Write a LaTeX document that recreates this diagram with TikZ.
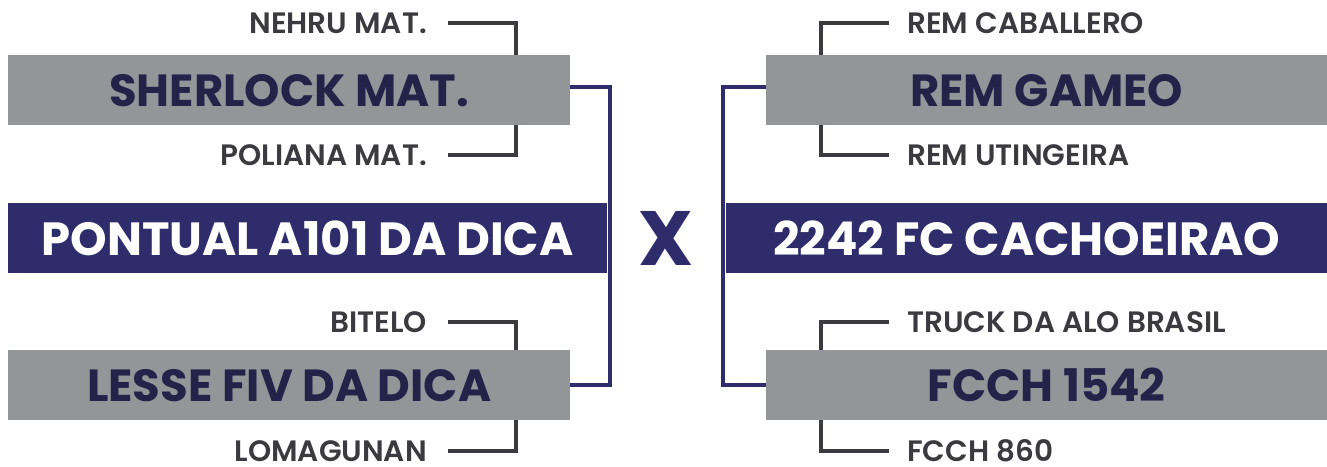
\documentclass[tikz,border=0pt]{standalone}
\usepackage{fontspec}
\setmainfont{Poppins}[BoldFont={Poppins SemiBold}]
\newfontfamily\heavyfont{Poppins Bold}
\definecolor{boxgray}{HTML}{939698}
\definecolor{navy}{HTML}{2E2C6B}
\definecolor{deepnavy}{HTML}{23234A}
\definecolor{labelgray}{HTML}{3B3B3F}
\begin{document}
\begin{tikzpicture}[x=1pt,y=-1pt,
  graybox/.style={fill=boxgray, inner sep=0pt, anchor=north west, text=deepnavy,
    minimum height=70pt, font=\heavyfont\fontsize{45}{45}\selectfont},
  navybox/.style={fill=navy, inner sep=0pt, anchor=north west, text=white,
    minimum height=70pt, font=\heavyfont\fontsize{46.5}{46.5}\selectfont},
  lbl/.style={inner sep=0pt, text=labelgray, font=\fontsize{29.5}{29.5}\selectfont\bfseries},
  lblL/.style={lbl, anchor=east},
  lblR/.style={lbl, anchor=west},
  darkline/.style={draw=labelgray, line width=4pt},
  blueline/.style={draw=navy, line width=3.5pt}]
\useasboundingbox (0,0) rectangle (1327,466);
% left boxes
\node[graybox, minimum width=562pt] (sherlock) at (8,55) {SHERLOCK MAT.};
\node[navybox, minimum width=599pt] (pontual) at (8,203) {PONTUAL A101 DA DICA};
\node[graybox, minimum width=562pt] (lesse) at (8,350) {LESSE FIV DA DICA};
% right boxes
\node[graybox, minimum width=561pt] (gameo) at (766,55) {REM GAMEO};
\node[navybox, minimum width=601pt] (cacho) at (726,203) {2242 FC CACHOEIRAO};
\node[graybox, minimum width=561pt] (fcch) at (766,350) {FCCH 1542};
% versus
\node[inner sep=0pt, text=navy, font=\heavyfont\fontsize{77}{77}\selectfont] (vs) at (666,238) {X};
% left labels
\node[lblL] (nehru) at (427,23) {NEHRU MAT.};
\node[lblL] (poliana) at (427,155) {POLIANA MAT.};
\node[lblL] (bitelo) at (427,322) {BITELO};
\node[lblL] (loma) at (427,451) {LOMAGUNAN};
% right labels
\node[lblR] (caba) at (907,23) {REM CABALLERO};
\node[lblR] (uting) at (907,155) {REM UTINGEIRA};
\node[lblR] (truck) at (907,322) {TRUCK DA ALO BRASIL};
\node[lblR] (f860) at (907,451) {FCCH 860};
% guide coordinates
\coordinate (xl) at (516,0);
\coordinate (xr) at (821,0);
\coordinate (bl) at (610,0);
\coordinate (br) at (723,0);
% dark connectors left
\draw[darkline] ([xshift=21pt]nehru.east) -| (xl |- sherlock.north);
\draw[darkline] ([xshift=21pt]poliana.east) -| (xl |- sherlock.south);
\draw[darkline] ([xshift=21pt]bitelo.east) -| (xl |- lesse.north);
\draw[darkline] ([xshift=21pt]loma.east) -| (xl |- lesse.south);
% dark connectors right
\draw[darkline] ([xshift=-18pt]caba.west) -| (xr |- gameo.north);
\draw[darkline] ([xshift=-18pt]uting.west) -| (xr |- gameo.south);
\draw[darkline] ([xshift=-18pt]truck.west) -| (xr |- fcch.north);
\draw[darkline] ([xshift=-18pt]f860.west) -| (xr |- fcch.south);
% blue connectors
\draw[blueline] ([yshift=3pt]sherlock.east) -| (bl |- lesse.east) -- (lesse.east);
\draw[blueline] ([yshift=3pt]gameo.west) -| (br |- fcch.west) -- (fcch.west);
\end{tikzpicture}
\end{document}
